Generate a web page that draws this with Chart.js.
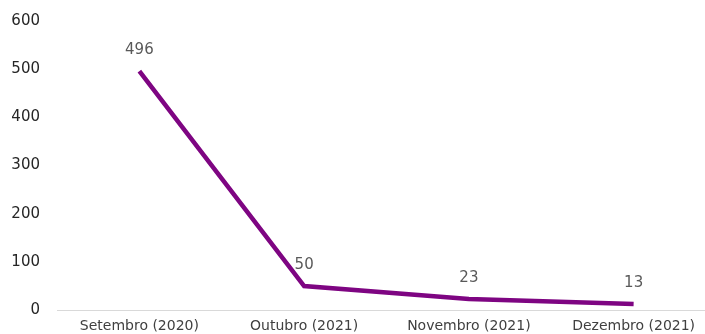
<!DOCTYPE html>
<html>
<head>
<meta charset="utf-8">
<script src="https://cdn.jsdelivr.net/npm/chart.js@4/dist/chart.umd.min.js"></script>
<style>
  html, body { margin: 0; padding: 0; background: #fff; overflow: hidden; }
  canvas { display: block; }
</style>
</head>
<body>
<canvas id="chart" width="720" height="343"></canvas>
<script>
// Data
const months = ['Setembro (2020)', 'Outubro (2021)', 'Novembro (2021)', 'Dezembro (2021)'];
const counts = [496, 50, 23, 13];
const yTicks = [0, 100, 200, 300, 400, 500, 600];

// Value labels above each point
const pointLabels = {
    id: 'pointLabels',
    afterDatasetsDraw(chart) {
        const ctx = chart.ctx;
        const meta = chart.getDatasetMeta(0);
        ctx.save();
        ctx.font = '15px "DejaVu Sans", Verdana, sans-serif';
        ctx.fillStyle = '#595959';
        ctx.textAlign = 'center';
        ctx.textBaseline = 'middle';
        meta.data.forEach((pt, i) => {
            ctx.fillText(String(counts[i]), pt.x, pt.y - 21);
        });
        ctx.restore();
    }
};

new Chart(document.getElementById('chart'), {
    type: 'line',
    data: {
        labels: months,
        datasets: [{
            data: counts,
            borderColor: '#7e0582',
            borderWidth: 4.5,
            pointRadius: 0,
            tension: 0,
            fill: false
        }]
    },
    options: {
        responsive: false,
        animation: false,
        layout: { padding: { top: 21, right: 4, left: 6, bottom: 0 } },
        plugins: {
            legend: { display: false },
            tooltip: { enabled: false }
        },
        scales: {
            x: {
                offset: true,
                grid: { display: false, drawTicks: false },
                border: { display: true, color: '#d9d9d9', width: 1 },
                ticks: {
                    color: '#404040',
                    font: { family: '"DejaVu Sans", Verdana, sans-serif', size: 14 },
                    padding: 8,
                    maxRotation: 0,
                    autoSkip: false
                }
            },
            y: {
                min: 0,
                max: 600,
                afterBuildTicks: (axis) => { axis.ticks = yTicks.map(v => ({ value: v })); },
                afterFit: (axis) => { axis.width = 51; axis.paddingTop = 0; axis.paddingBottom = 0; },
                grid: { display: false, drawTicks: false },
                border: { display: false },
                ticks: {
                    color: '#262626',
                    font: { family: '"DejaVu Sans", Verdana, sans-serif', size: 15 },
                    padding: 17
                }
            }
        }
    },
    plugins: [pointLabels]
});
</script>
</body>
</html>
